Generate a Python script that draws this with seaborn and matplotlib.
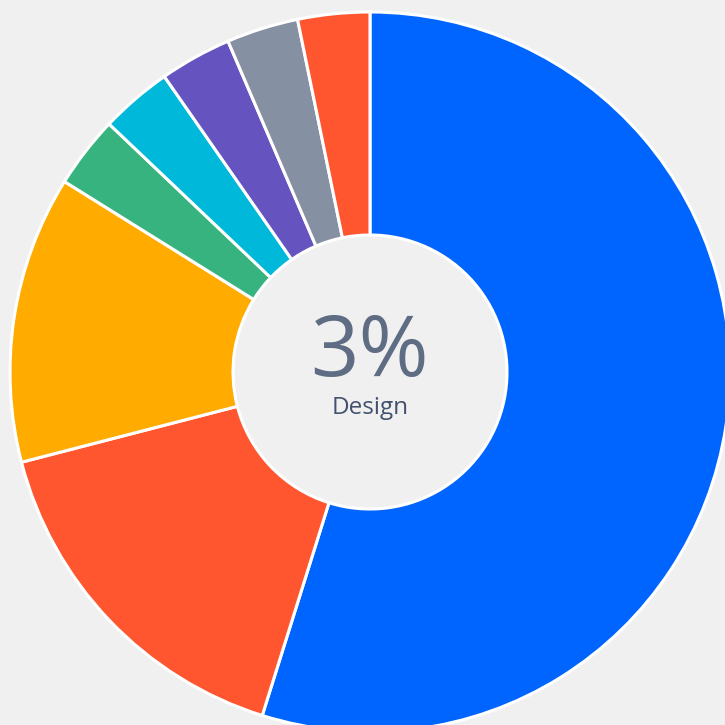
import matplotlib
matplotlib.use("Agg")
import matplotlib.pyplot as plt
import seaborn as sns

# slice counts, read clockwise from 12 o'clock
categories = ["Development", "Marketing", "Sales", "Support", "Research", "Operations", "Finance", "Design"]
counts = [17, 5, 4, 1, 1, 1, 1, 1]
slice_colors = ["#0065FF", "#FF5630", "#FFAB00", "#36B37E", "#00B8D9", "#6554C0", "#8590A2", "#FF5630"]

highlight = "Design"

BG = "#F0F0F0"

sns.set_theme(style="white", rc={"figure.facecolor": BG, "axes.facecolor": BG})
plt.rcParams["font.family"] = ["Open Sans", "DejaVu Sans"]

fig = plt.figure(figsize=(7.25, 7.25), dpi=100)
ax = fig.add_axes([0, 0, 1, 1])

palette = sns.color_palette(slice_colors)
ax.pie(
    counts,
    colors=palette,
    startangle=90,
    counterclock=False,
    center=(370, 353),
    radius=360,
    wedgeprops=dict(width=223, edgecolor="white", linewidth=2.2),
)

ax.set_xlim(0, 725)
ax.set_ylim(0, 725)
ax.set_aspect("equal")
ax.axis("off")

idx = categories.index(highlight)
pct = round(100 * counts[idx] / sum(counts))
ax.text(370, 349, f"{pct}%", ha="center", va="baseline", fontsize=61, color="#5E6C84")
ax.text(370, 311, highlight, ha="center", va="baseline", fontsize=17.5, color="#42526E")

fig.savefig("out.png", dpi=100, facecolor=BG)
